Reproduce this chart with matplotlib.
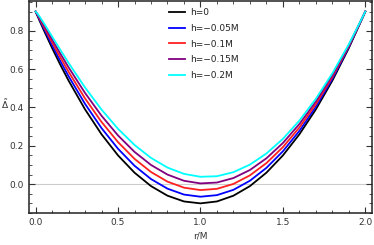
import matplotlib
matplotlib.use('Agg')
import matplotlib.pyplot as plt
from matplotlib.ticker import MultipleLocator

# r/M sample points and Delta values
r = [0, 0.01, 0.025, 0.05, 0.1, 0.15, 0.2, 0.3, 0.4, 0.5, 0.6, 0.7, 0.8, 0.9,
     1.0, 1.1, 1.2, 1.3, 1.4, 1.5, 1.6, 1.7, 1.8, 1.9, 2.0]

d_h0 = [0.9, 0.8801, 0.8506, 0.8025, 0.71, 0.6225, 0.54, 0.39, 0.26, 0.15, 0.06, -0.01, -0.06,
        -0.09, -0.1, -0.09, -0.06, -0.01, 0.06, 0.15, 0.26, 0.39, 0.54, 0.71, 0.9]
d_h005 = [0.9, 0.8828, 0.8561, 0.8117, 0.7250, 0.6419, 0.5630, 0.4185, 0.2922, 0.1847, 0.0961,
          0.0268, -0.0234, -0.0541, -0.0653, -0.0571, -0.0294, 0.0180, 0.0850, 0.1716, 0.2779,
          0.4038, 0.5495, 0.7149, 0.9]
d_h01 = [0.9, 0.8854, 0.8616, 0.8209, 0.7400, 0.6614, 0.5861, 0.4469, 0.3244, 0.2193, 0.1322,
         0.0635, 0.0133, -0.0181, -0.0307, -0.0242, 0.0013, 0.0460, 0.1099, 0.1932, 0.2957,
         0.4176, 0.5590, 0.7198, 0.9]
d_h015 = [0.9, 0.8881, 0.8670, 0.8302, 0.7549, 0.6808, 0.6091, 0.4754, 0.3566, 0.2540, 0.1684,
          0.1002, 0.0500, 0.0178, 0.0040, 0.0086, 0.0320, 0.0740, 0.1349, 0.2147, 0.3136,
          0.4315, 0.5684, 0.7246, 0.9]
d_h02 = [0.9, 0.8907, 0.8725, 0.8394, 0.7699, 0.7002, 0.6321, 0.5038, 0.3888, 0.2886, 0.2045,
         0.1370, 0.0866, 0.0537, 0.0386, 0.0415, 0.0626, 0.1020, 0.1599, 0.2363, 0.3314,
         0.4453, 0.5779, 0.7295, 0.9]

labels = ['h=0', 'h=\u22120.05M', 'h=\u22120.1M', 'h=\u22120.15M', 'h=\u22120.2M']
colors = ['black', '#0000ff', '#ff2020', '#800080', '#00ffff']
series = [d_h0, d_h005, d_h01, d_h015, d_h02]

fig = plt.figure(figsize=(3.74, 2.45), dpi=100)
ax = fig.add_axes([0.0775, 0.130, 0.917, 0.866])

ax.axhline(0, color='#cccccc', lw=0.8, zorder=0)
for d, c, lab in zip(series, colors, labels):
    ax.plot(r, d, color=c, lw=1.3, label=lab)

ax.set_xlim(-0.04, 2.04)
ax.set_ylim(-0.151, 0.955)

ax.xaxis.set_major_locator(MultipleLocator(0.5))
ax.xaxis.set_minor_locator(MultipleLocator(0.1))
ax.yaxis.set_major_locator(MultipleLocator(0.2))
ax.yaxis.set_minor_locator(MultipleLocator(0.05))
ax.xaxis.set_major_formatter(plt.FuncFormatter(lambda v, p: f'{v:.1f}'))
ax.yaxis.set_major_formatter(plt.FuncFormatter(lambda v, p: f'{v:.1f}'))
ax.tick_params(which='both', direction='in', top=True, right=True,
               labelsize=6.5, labelcolor='#333333', color='#333333')
ax.tick_params(which='major', length=4, width=0.8)
ax.tick_params(which='minor', length=2, width=0.6)
for s in ax.spines.values():
    s.set_linewidth(1.1)
    s.set_color('#222222')

ax.set_xlabel('r/M', fontsize=6.5, color='#333333', labelpad=3)
ax.set_ylabel(r'$\tilde{\Delta}$', fontsize=6.5, color='#333333', rotation=0, labelpad=2)
ax.yaxis.set_label_coords(-0.07, 0.48)

leg = ax.legend(loc='upper left', bbox_to_anchor=(0.385, 1.005), frameon=False,
                fontsize=6.5, handlelength=1.8, handletextpad=0.5, labelspacing=0.75)
for t in leg.get_texts():
    t.set_color('#222222')

fig.savefig('out.png', dpi=100)
